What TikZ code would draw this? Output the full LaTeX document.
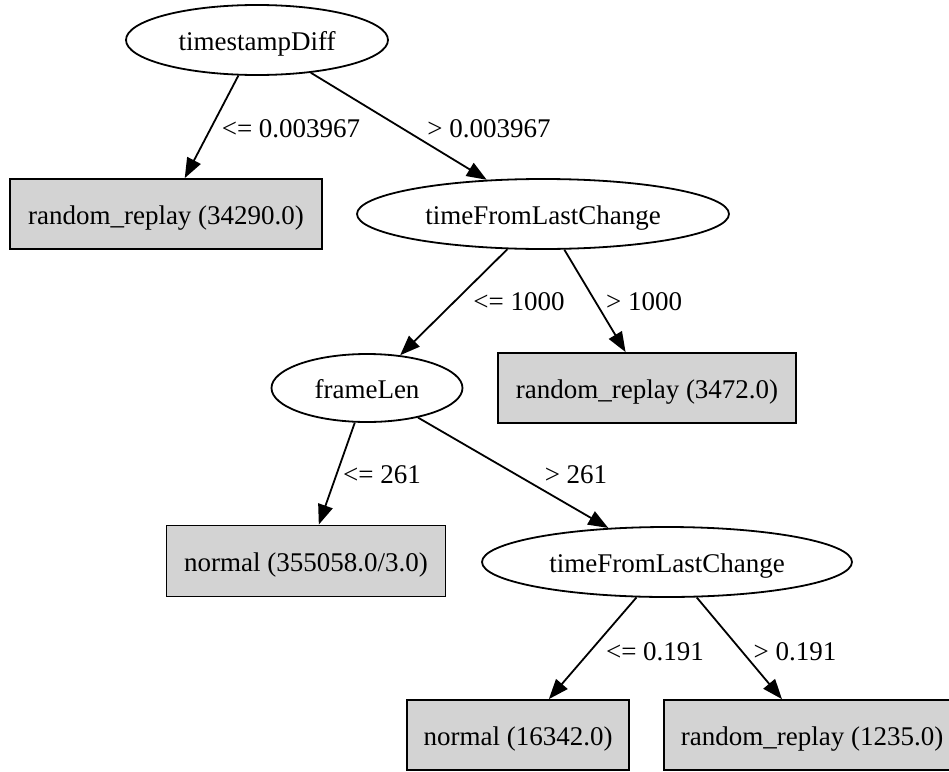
\documentclass[tikz,border=0pt]{standalone}
\usepackage{fontspec}
\setmainfont{Liberation Serif}
\usetikzlibrary{shapes.geometric,arrows.meta}
\definecolor{leafgray}{HTML}{D3D3D3}
\begin{document}
\begin{tikzpicture}[x=1pt,y=-1pt,
  font=\fontsize{27}{32}\selectfont,
  every node/.style={inner sep=0pt,text height=27pt,text depth=7pt},
  test/.style={ellipse,draw=black,line width=1.8pt,minimum height=70pt},
  leaf/.style={rectangle,draw=black,fill=leafgray,line width=1.8pt,minimum height=70pt},
  edge/.style={draw=black,line width=1.8pt,-{Triangle[length=20pt,width=15pt]}},
  lbl/.style={}]
\useasboundingbox (0,0) rectangle (949,771);

% decision nodes
\node[test,minimum width=262pt] (tsd)  at (257,40)  {timestampDiff};
\node[test,minimum width=372pt] (tf1)  at (543,214) {timeFromLastChange};
\node[test,minimum width=191pt,minimum height=68pt] (fl) at (367,388) {frameLen};
\node[test,minimum width=370pt] (tf2)  at (667,562) {timeFromLastChange};

% leaves
\node[leaf,minimum width=312pt] (rr1) at (166,214) {random\_replay (34290.0)};
\node[leaf,minimum width=298pt] (rr2) at (647,388) {random\_replay (3472.0)};
\node[leaf,minimum width=279pt,minimum height=71pt] (n1) at (306,561) {normal (355058.0/3.0)};
\node[leaf,minimum width=222pt] (n2)  at (518,735) {normal (16342.0)};
\node[leaf,minimum width=296pt] (rr3) at (812,735) {random\_replay (1235.0)};

% branches
\draw[edge] (tsd) -- (rr1);
\draw[edge] (tsd) -- (tf1);
\draw[edge] (tf1) -- (fl);
\draw[edge] (tf1) -- (rr2);
\draw[edge] (fl) -- (n1);
\draw[edge] (fl) -- (tf2);
\draw[edge] (tf2) -- (n2);
\draw[edge] (tf2) -- (rr3);

% branch conditions
\node[lbl] (c1) at (291,127) {<= 0.003967};
\node[lbl] (c2) at (489,127) {> 0.003967};
\node[lbl] (c3) at (519,300) {<= 1000};
\node[lbl] (c4) at (644,300) {> 1000};
\node[lbl] (c5) at (382,473) {<= 261};
\node[lbl] (c6) at (576,473) {> 261};
\node[lbl] (c7) at (655,650) {<= 0.191};
\node[lbl] (c8) at (795,650) {> 0.191};
\end{tikzpicture}
\end{document}
